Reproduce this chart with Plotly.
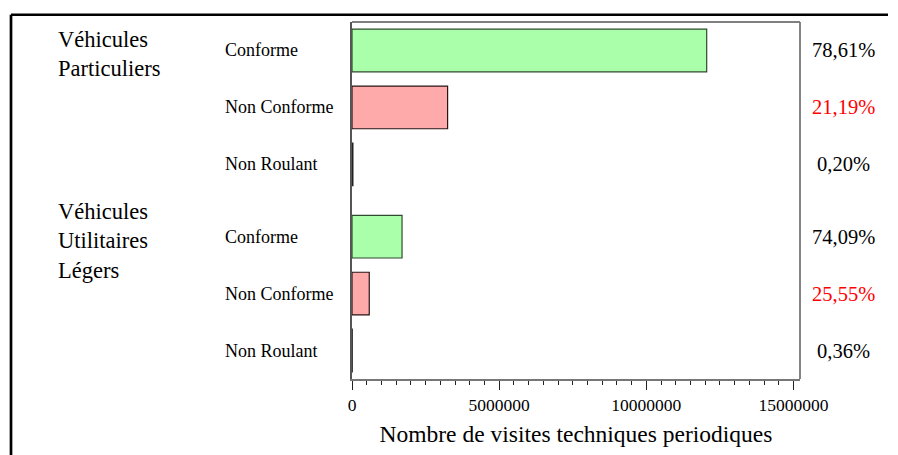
import plotly.graph_objects as go

# ---- data ----
groups = ["Véhicules<br>Particuliers", "Véhicules<br>Utilitaires<br>Légers"]
statuses = ["Conforme", "Non Conforme", "Non Roulant"]
vp_values = [12050000, 3248000, 30700]
vul_values = [1700000, 586000, 8300]
vp_pct = ["78,61%", "21,19%", "0,20%"]
vul_pct = ["74,09%", "25,55%", "0,36%"]
x_ticks = [0, 5000000, 10000000, 15000000]

# ---- styling ----
FONT = "Liberation Serif"
fill_colors = ["#AAFFAA", "#FFAAAA", "#555555"]
line_colors = ["#2E4A2E", "#2A1414", "#222222"]
pct_colors = ["#000000", "#FF0000", "#000000"]
GROUP_GAP = 0.27

OFF = 8  # page body margin
W, H = 898 - OFF, 455 - OFF
ML, MR, MT, MB = 352 - OFF, 98, 22 - OFF, 73
PW, PH = W - ML - MR, H - MT - MB


def px_x(px):
    # px given in window coordinates
    return (px - OFF - ML) / PW


def px_y(py):
    return (H - MB - (py - OFF)) / PH


all_values = [vp_values, vul_values]
all_pct = [vp_pct, vul_pct]

fig = go.Figure()
annotations = []
for g, (vals, pcts) in enumerate(zip(all_values, all_pct)):
    ys = [g * (len(statuses) + GROUP_GAP) + i for i in range(len(statuses))]
    fig.add_trace(go.Bar(
        x=vals, y=ys, orientation="h", width=0.75,
        marker=dict(color=fill_colors, line=dict(color=line_colors, width=1.2)),
        showlegend=False, hoverinfo="x",
    ))
    for i, s in enumerate(statuses):
        annotations.append(dict(
            x=px_x(223), xref="paper", y=ys[i], yref="y", text=s,
            showarrow=False, xanchor="left", yanchor="middle",
            font=dict(family=FONT, size=18, color="black")))
        annotations.append(dict(
            x=px_x(843), xref="paper", y=ys[i], yref="y", text=pcts[i],
            showarrow=False, xanchor="center", yanchor="middle",
            font=dict(family=FONT, size=20.5, color=pct_colors[i])))
    annotations.append(dict(
        x=px_x(56), xref="paper", y=ys[0], yref="y", text=groups[g],
        showarrow=False, xanchor="left", yanchor="middle", align="left", yshift=-4,
        font=dict(family=FONT, size=22.5, color="black")))

y_max = (len(all_values) - 1) * (len(statuses) + GROUP_GAP) + len(statuses) - 0.5

shapes = [
    # plot frame top (black) and right (grey)
    dict(type="line", xref="paper", yref="paper", x0=0, x1=1, y0=1, y1=1,
         line=dict(color="black", width=1.2)),
    dict(type="line", xref="paper", yref="paper", x0=1, x1=1, y0=0, y1=1,
         line=dict(color="#777777", width=1.8)),
    # outer frame
    dict(type="line", xref="paper", yref="paper", x0=px_x(11), x1=px_x(888),
         y0=px_y(14.7), y1=px_y(14.7), line=dict(color="black", width=2.7)),
    dict(type="line", xref="paper", yref="paper", x0=px_x(11), x1=px_x(11),
         y0=px_y(14.7), y1=px_y(460), line=dict(color="black", width=2.7)),
]

fig.update_layout(
    width=W, height=H,
    margin=dict(l=ML, r=MR, t=MT, b=MB, pad=0),
    paper_bgcolor="white", plot_bgcolor="white",
    font=dict(family=FONT, color="black"),
    bargap=0.25,
    annotations=annotations,
    shapes=shapes,
    xaxis=dict(
        range=[0, 15.22e6], tickvals=x_ticks, ticktext=[str(v) for v in x_ticks],
        showgrid=False, zeroline=False, showline=True, linecolor="#777777", linewidth=1.8,
        ticks="outside", ticklen=9, tickwidth=1.3, tickcolor="#222222",
        minor=dict(dtick=500000, ticks="outside", ticklen=4, tickwidth=1.1, tickcolor="#222222"),
        tickfont=dict(family=FONT, size=17.5, color="black"),
        title=dict(text="Nombre de visites techniques periodiques",
                   font=dict(family=FONT, size=23.5, color="black"), standoff=12),
        fixedrange=True,
    ),
    yaxis=dict(
        range=[y_max, -0.5], showticklabels=False, showgrid=False, zeroline=False,
        showline=True, linecolor="#555555", linewidth=2, ticks="",
        fixedrange=True,
    ),
)

fig.write_html("out.html", config={"displayModeBar": False})
